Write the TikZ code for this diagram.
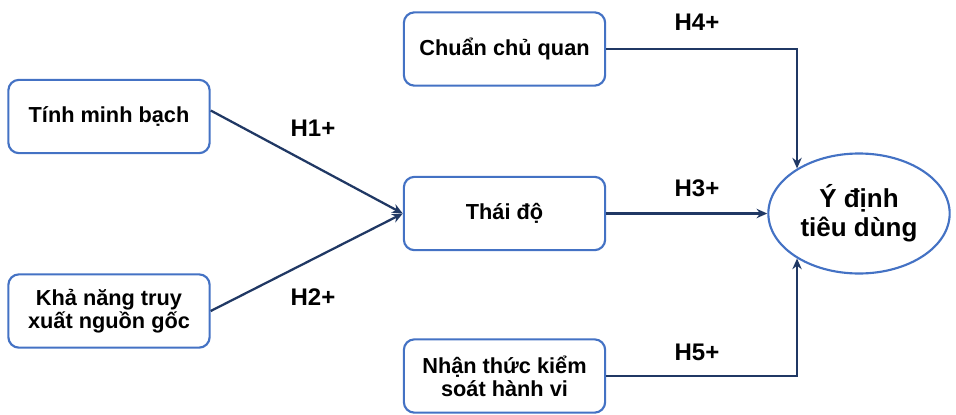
\documentclass[tikz,border=0pt]{standalone}
\usepackage{fontspec}
\setmainfont{Liberation Sans}
\usetikzlibrary{arrows.meta,shapes.geometric}
\definecolor{boxblue}{RGB}{68,114,196}
\definecolor{linenavy}{RGB}{32,56,100}

\begin{document}
\begin{tikzpicture}[x=0.75pt, y=-0.75pt,
    hop/.style={draw=boxblue, line width=1.6pt, rounded corners=8pt, fill=white,
      minimum width=151pt, minimum height=55pt, inner sep=2pt, align=center,
      font=\bfseries\fontsize{16.3}{17.5}\selectfont},
    ellip/.style={ellipse, draw=boxblue, line width=1.6pt, fill=white,
      minimum width=136pt, minimum height=90pt, inner sep=0pt, align=center,
      font=\bfseries\fontsize{19.5}{22}\selectfont},
    gia/.style={font=\bfseries\fontsize{18}{20}\selectfont},
    noi/.style={draw=linenavy, line width=1.7pt, -{Stealth[length=8pt,width=7pt]}}]
		%%%%% START %%%%%
		\useasboundingbox (0,0) rectangle (956,414);
		
		\node[hop] (tinh) at (109,116.5) {Tính minh bạch};
		\node[hop] (khanang) at (109,311) {Khả năng truy\\xuất nguồn gốc};
		\node[hop] (chuan) at (504.5,49) {Chuẩn chủ quan};
		\node[hop] (thaido) at (504.5,213.5) {Thái độ};
		\node[hop] (nhanthuc) at (504.5,376) {Nhận thức kiểm\\soát hành vi};
		\node[ellip] (ydinh) at (859,213.5) {Ý định\\tiêu dùng};
		
		\draw[noi] (tinh.east) ++(0,-6) -- (thaido.west);
		\draw[noi] (khanang.east) -- (thaido.west);
		\draw[noi] (thaido.east) -- (ydinh.west);
		\draw[noi] (chuan.east) -| (ydinh.144);
		\draw[noi] (nhanthuc.east) -| (ydinh.216);
		
		\node[gia] (h1) at (313,128) {H1+};
		\node[gia] (h2) at (313,297) {H2+};
		\node[gia] (h3) at (697,188) {H3+};
		\node[gia] (h4) at (697,22) {H4+};
		\node[gia] (h5) at (697,352) {H5+};
		%%%%% END %%%%%
\end{tikzpicture}
\end{document}
